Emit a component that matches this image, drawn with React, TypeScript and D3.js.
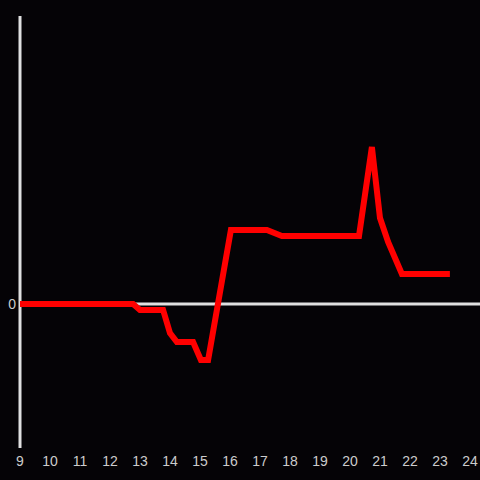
import React from "react";
import * as d3 from "d3";

const hours = [9, 12.77, 13.0, 13.77, 14.0, 14.23, 14.77, 15.03, 15.27, 16.03, 17.23, 17.73, 20.3, 20.73, 21.0, 21.27, 21.73, 23.33];
const values = [0, 0, -6, -6, -29, -38, -38, -56, -56, 74, 74, 68, 68, 157, 86, 62, 30, 30];
const xTicks = [9, 10, 11, 12, 13, 14, 15, 16, 17, 18, 19, 20, 21, 22, 23, 24];
const yTicks = [0];

export default function App() {
  const W = 480, H = 480;
  const x = d3.scaleLinear().domain([9, 24]).range([20, 470]);
  const y = d3.scaleLinear().domain([-144, 288]).range([448, 16]);
  const pts = hours.map((h, i) => [h, values[i]] as [number, number]);
  const line = d3.line<[number, number]>().x(d => x(d[0])).y(d => y(d[1]));
  const font = "'Liberation Sans', Arial, sans-serif";
  return (
    <svg width={W} height={H} style={{ position: "absolute", left: 0, top: 0, background: "#050306" }}>
      <rect x={0} y={0} width={W} height={H} fill="#050306" />
      {yTicks.map(t => (
        <g key={t}>
          <line x1={20} x2={480} y1={y(t)} y2={y(t)} stroke="#e0e0e0" strokeWidth={3} />
          <text x={16} y={y(t)} dy="0.35em" textAnchor="end" fill="#cccccc" fontSize={14} fontFamily={font}>{t}</text>
        </g>
      ))}
      <line x1={20} x2={20} y1={16} y2={448} stroke="#e0e0e0" strokeWidth={3} />
      {xTicks.map(t => (
        <text key={t} x={x(t)} y={466} textAnchor="middle" fill="#cccccc" fontSize={14} fontFamily={font}>{t}</text>
      ))}
      <path d={line(pts) || ""} fill="none" stroke="#ff0000" strokeWidth={6} />
    </svg>
  );
}
